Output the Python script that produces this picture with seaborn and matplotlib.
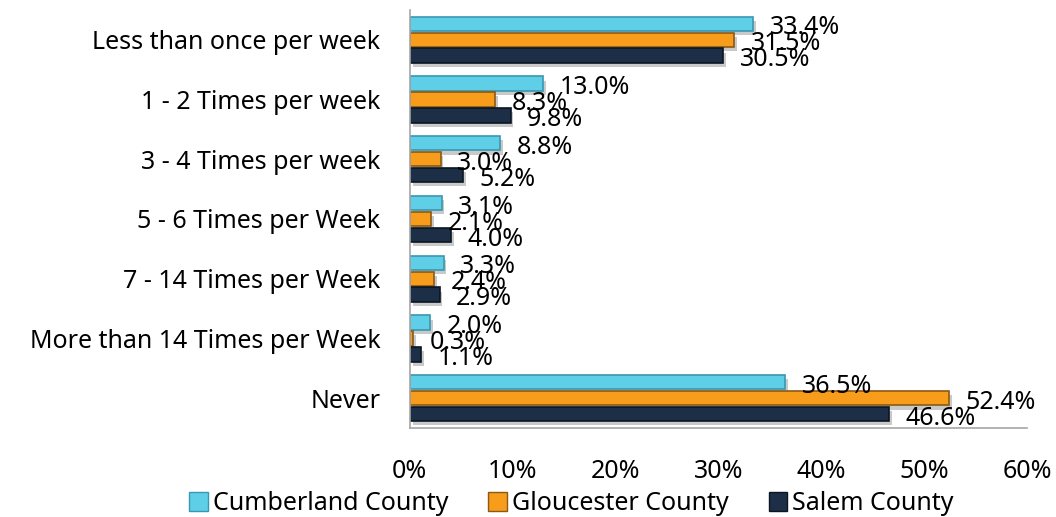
import numpy as np
import pandas as pd
import matplotlib
matplotlib.use("Agg")
import matplotlib.pyplot as plt
import matplotlib.patheffects as pe
import seaborn as sns

categories = ["Less than once per week", "1 - 2 Times per week", "3 - 4 Times per week",
              "5 - 6 Times per Week", "7 - 14 Times per Week", "More than 14 Times per Week", "Never"]
counties = ["Cumberland County", "Gloucester County", "Salem County"]
cumberland = [33.4, 13.0, 8.8, 3.1, 3.3, 2.0, 36.5]
gloucester = [31.5, 8.3, 3.0, 2.1, 2.4, 0.3, 52.4]
salem = [30.5, 9.8, 5.2, 4.0, 2.9, 1.1, 46.6]
xticks = [0, 10, 20, 30, 40, 50, 60]

colors = ["#5fcfe8", "#f89c1c", "#1d2f47"]
edges = ["#3a97b0", "#8a5a14", "#0c1521"]

df = pd.DataFrame({
    "category": categories * 3,
    "county": np.repeat(counties, len(categories)),
    "value": cumberland + gloucester + salem,
})

sns.set_style("white")
plt.rcParams["font.family"] = ["Noto Sans", "DejaVu Sans"]

fig = plt.figure(figsize=(10.56, 5.17), dpi=100)
ax = fig.add_axes([0.388, 0.172, 0.5845, 0.809])
sns.barplot(data=df, y="category", x="value", hue="county", order=categories,
            hue_order=counties, palette=colors, saturation=1, orient="h",
            width=0.8, gap=0.1, ax=ax, legend=False)

# bevel-ish look: darker edge plus a soft drop shadow, labels a bit right of the bar end
for cont, ec in zip(ax.containers, edges):
    for bar in cont:
        bar.set_edgecolor(ec)
        bar.set_linewidth(1.2)
        bar.set_path_effects([pe.SimplePatchShadow(offset=(2, -3), shadow_rgbFace="#888888", alpha=0.45),
                              pe.Normal()])
    texts = ax.bar_label(cont, labels=[f"{v:.1f}%" for v in cont.datavalues], padding=2,
                         fontsize=18, color="black")
    for t in texts:
        t.xyann = (12, -3)

ax.set_xlim(0, 60)
ax.set_ylim(6.5, -0.5)
ax.set_xticks(xticks)
ax.set_xticklabels([f"{t}%" for t in xticks])
ax.tick_params(axis="x", length=0, pad=22, labelsize=18, labelcolor="black")
ax.tick_params(axis="y", length=0, pad=21, labelsize=18, labelcolor="black")
ax.set_xlabel("")
ax.set_ylabel("")
for s in ["top", "right"]:
    ax.spines[s].set_visible(False)
for s in ["left", "bottom"]:
    ax.spines[s].set_color("#a6a6a6")
    ax.spines[s].set_linewidth(1.2)

handles = [plt.Rectangle((0, 0), 1, 1, facecolor=c, edgecolor=e) for c, e in zip(colors, edges)]
fig.legend(handles, counties, loc="lower center", bbox_to_anchor=(0.541, -0.042), ncol=3,
           frameon=False, fontsize=18, handlelength=0.75, handleheight=0.75,
           handletextpad=0.2, columnspacing=1.6, labelcolor="black")

fig.savefig("out.png", dpi=100)
